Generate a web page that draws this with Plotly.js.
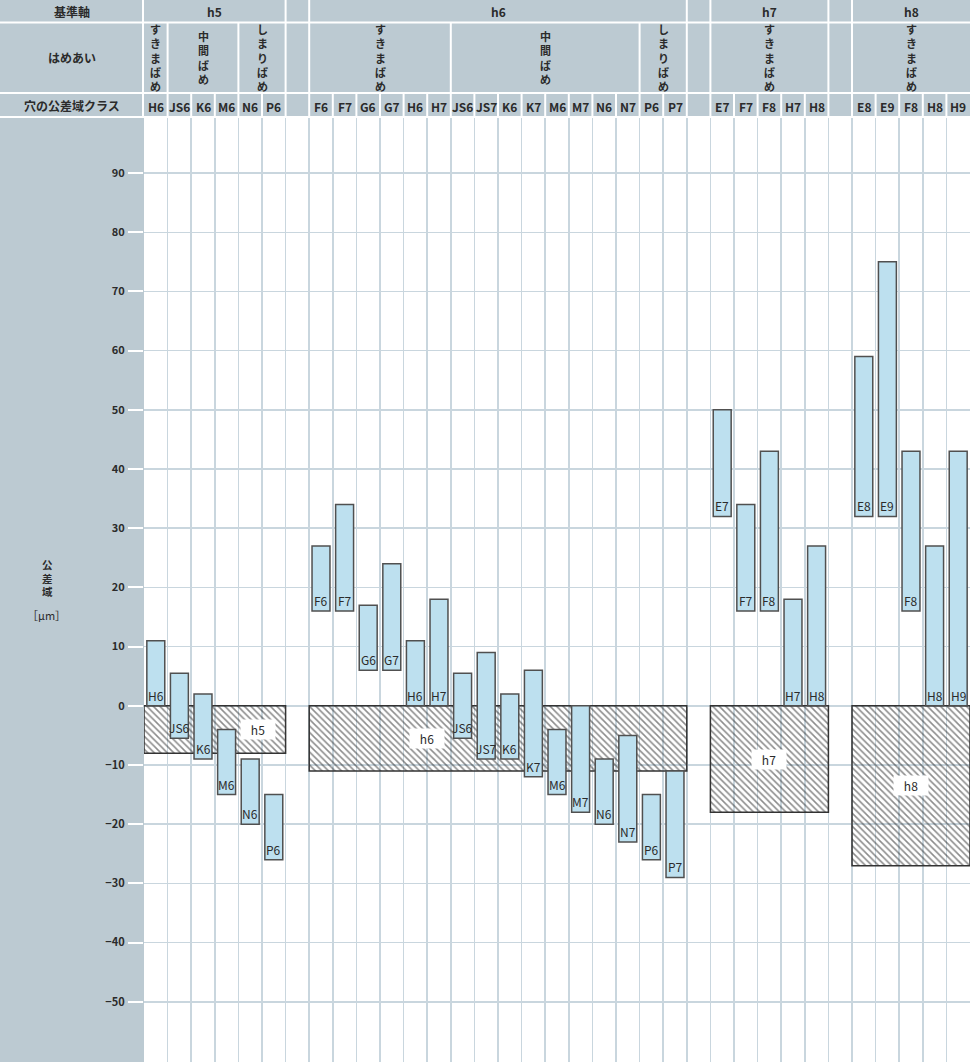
<!DOCTYPE html>
<html>
<head>
<meta charset="utf-8">
<script src="https://cdn.plot.ly/plotly-3.0.1.min.js"></script>
<style>
  html, body { margin: 0; padding: 0; background: #ffffff; }
  #chart { width: 970px; height: 1062px; }
</style>
</head>
<body>
<div id="chart"></div>
<script>
// ---------------- DATA ----------------
// Hole tolerance classes per column ('' = blank separator column between shaft groups)
const holeClasses = ['H6','JS6','K6','M6','N6','P6','',
  'F6','F7','G6','G7','H6','H7','JS6','JS7','K6','K7','M6','M7','N6','N7','P6','P7','',
  'E7','F7','F8','H7','H8','',
  'E8','E9','F8','H8','H9'];
// Upper / lower deviations of the hole [µm]
const upperDev = [11, 5.5, 2, -4, -9, -15, null,
  27, 34, 17, 24, 11, 18, 5.5, 9, 2, 6, -4, 0, -9, -5, -15, -11, null,
  50, 34, 43, 18, 27, null,
  59, 75, 43, 27, 43];
const lowerDev = [0, -5.5, -9, -15, -20, -26, null,
  16, 16, 6, 6, 0, 0, -5.5, -9, -9, -12, -15, -18, -20, -23, -26, -29, null,
  32, 16, 16, 0, 0, null,
  32, 32, 16, 0, 0];
// Fit type per column
const fitTypes = ['すきまばめ','中間ばめ','中間ばめ','中間ばめ','しまりばめ','しまりばめ','',
  'すきまばめ','すきまばめ','すきまばめ','すきまばめ','すきまばめ','すきまばめ',
  '中間ばめ','中間ばめ','中間ばめ','中間ばめ','中間ばめ','中間ばめ','中間ばめ','中間ばめ',
  'しまりばめ','しまりばめ','',
  'すきまばめ','すきまばめ','すきまばめ','すきまばめ','すきまばめ','',
  'すきまばめ','すきまばめ','すきまばめ','すきまばめ','すきまばめ'];
// Shaft (basic shaft) tolerance zones: upper = 0, lower deviation [µm]
const shafts = ['h5','h6','h7','h8'];
const shaftUpper = [0, 0, 0, 0];
const shaftLower = [-8, -11, -18, -27];
// Y-axis ticks
const yTicks = [-50,-40,-30,-20,-10,0,10,20,30,40,50,60,70,80,90];
// Header texts
const hdrShaft = '基準軸';
const hdrFit = 'はめあい';
const hdrHole = '穴の公差域クラス';
const yTitle = '公差域';
const yUnit = '［µm］';

// ---------------- LAYOUT HELPERS ----------------
const W = 970, H = 1062, L = 144, T = 118;
const PW = W - L, PH = H - T;
const px2x = p => (p - L) / PW;
const px2y = p => (H - p) / PH;
const FONT = '"Noto Sans CJK JP", "Noto Sans", sans-serif';
const GREY = '#bccad2';
const GRID = '#c9d6de';
const TXT = '#2b2b2b';
const nCols = holeClasses.length;
const vertical = s => Array.from(s).join('<br>');

// groups of consecutive non-blank columns
const groups = [];
{
  let start = null;
  for (let i = 0; i <= nCols; i++) {
    const blank = (i === nCols) || holeClasses[i] === '';
    if (!blank && start === null) start = i;
    if (blank && start !== null) { groups.push([start, i - 1]); start = null; }
  }
}
// fit-type runs
const fitRuns = [];
{
  let start = null;
  for (let i = 0; i <= nCols; i++) {
    const cur = i < nCols ? fitTypes[i] : '';
    const prev = start !== null ? fitTypes[start] : null;
    if (start !== null && cur !== prev) { fitRuns.push([start, i - 1, prev]); start = null; }
    if (start === null && cur !== '') start = i;
  }
}

// ---------------- TRACES ----------------
const barX = [], barBase = [], barLen = [];
holeClasses.forEach((c, i) => {
  if (c === '') return;
  barX.push(i); barBase.push(lowerDev[i]); barLen.push(upperDev[i] - lowerDev[i]);
});

const shaftX = groups.map(g => (g[0] + g[1]) / 2);
const shaftW = groups.map(g => g[1] - g[0] + 1);

const traces = [
  {
    type: 'bar', x: shaftX, base: shaftUpper, y: shaftLower.map((v, k) => v - shaftUpper[k]),
    width: shaftW,
    marker: {
      color: 'rgba(0,0,0,0)',
      line: { color: '#333333', width: 1.5 },
      pattern: { shape: '\\', fgcolor: '#1a1a1a', size: 4.6, solidity: 0.34, fillmode: 'overlay' }
    },
    hoverinfo: 'skip', showlegend: false
  },
  {
    type: 'bar', x: barX, base: barBase, y: barLen, width: 0.76,
    marker: { color: '#bde0ef', line: { color: '#505050', width: 1.5 } },
    hoverinfo: 'skip', showlegend: false
  }
];

// ---------------- SHAPES ----------------
const shapes = [];
const white = { color: '#ffffff', width: 2 };
// horizontal header separators
[22.5, 93, 117].forEach(p => {
  shapes.push({ type: 'line', xref: 'paper', yref: 'paper', x0: px2x(0), x1: 1, y0: px2y(p), y1: px2y(p), line: white, layer: 'above' });
});
// left label-cell separator
shapes.push({ type: 'line', xref: 'paper', yref: 'paper', x0: px2x(143), x1: px2x(143), y0: px2y(0), y1: px2y(117), line: white });
// column boundaries in header
for (let i = 1; i < nCols; i++) {
  const gA = holeClasses[i - 1] === '', gB = holeClasses[i] === '';
  let top;
  if (gA || gB) top = 0;
  else if (fitTypes[i - 1] !== fitTypes[i]) top = 22.5;
  else top = 93;
  shapes.push({ type: 'line', xref: 'x', yref: 'paper', x0: i - 0.5, x1: i - 0.5, y0: px2y(top), y1: px2y(117), line: white });
}

// ---------------- ANNOTATIONS ----------------
const ann = [];
const hdrFont = { family: FONT, size: 12, color: TXT, weight: 700 };
// left header cells
ann.push({ xref: 'paper', yref: 'paper', x: px2x(72), y: px2y(11.5), text: hdrShaft, showarrow: false, font: hdrFont, xanchor: 'center', yanchor: 'middle' });
ann.push({ xref: 'paper', yref: 'paper', x: px2x(72), y: px2y(58), text: hdrFit, showarrow: false, font: hdrFont, xanchor: 'center', yanchor: 'middle' });
ann.push({ xref: 'paper', yref: 'paper', x: px2x(72), y: px2y(105.5), text: hdrHole, showarrow: false, font: hdrFont, xanchor: 'center', yanchor: 'middle' });
// shaft group names
groups.forEach((g, k) => {
  ann.push({ xref: 'x', yref: 'paper', x: (g[0] + g[1]) / 2, y: px2y(12), text: shafts[k], showarrow: false, font: hdrFont, xanchor: 'center', yanchor: 'middle' });
});
// fit type vertical labels (one character per line)
fitRuns.forEach(r => {
  ann.push({ xref: 'x', yref: 'paper', x: (r[0] + r[1]) / 2, y: px2y(58), text: vertical(r[2]), showarrow: false,
    font: { family: FONT, size: 11, color: TXT, weight: 700 }, xanchor: 'center', yanchor: 'middle', borderpad: 0 });
});
// hole class header labels
holeClasses.forEach((c, i) => {
  if (c === '') return;
  ann.push({ xref: 'x', yref: 'paper', x: i, y: px2y(106), text: c, showarrow: false, font: hdrFont, xanchor: 'center', yanchor: 'middle' });
});
// bar labels (at the lower end of each bar)
holeClasses.forEach((c, i) => {
  if (c === '') return;
  ann.push({ xref: 'x', yref: 'y', x: i, y: lowerDev[i], text: c, showarrow: false,
    font: { family: FONT, size: 12, color: TXT }, xanchor: 'center', yanchor: 'bottom', borderpad: 0, yshift: 1 });
});
// shaft zone labels (white boxes)
const shaftLabelShift = [1.85, -3, 0, 0]; // horizontal offset of label from zone centre (columns)
shafts.forEach((s, k) => {
  ann.push({ xref: 'x', yref: 'y', x: shaftX[k] + shaftLabelShift[k], y: (shaftUpper[k] + shaftLower[k]) / 2,
    text: s, showarrow: false, font: { family: FONT, size: 12, color: TXT },
    bgcolor: '#ffffff', width: 32, height: 17, xanchor: 'center', yanchor: 'middle' });
});
// y-axis title
ann.push({ xref: 'paper', yref: 'paper', x: px2x(47), y: px2y(578), text: vertical(yTitle), showarrow: false,
  font: { family: FONT, size: 10.5, color: TXT, weight: 700 }, xanchor: 'center', yanchor: 'middle', borderpad: 0 });
ann.push({ xref: 'paper', yref: 'paper', x: px2x(46.5), y: px2y(615), text: yUnit, showarrow: false,
  font: { family: FONT, size: 11, color: TXT }, xanchor: 'center', yanchor: 'middle' });

// ---------------- LAYOUT ----------------
const xBounds = [];
for (let i = 1; i < nCols; i++) xBounds.push(i - 0.5);

const layout = {
  width: W, height: H,
  margin: { l: L, r: 0, t: T, b: 0, pad: 0 },
  paper_bgcolor: GREY,
  plot_bgcolor: '#ffffff',
  barmode: 'overlay',
  showlegend: false,
  font: { family: FONT, color: TXT },
  xaxis: {
    range: [-0.5, nCols - 0.5], tickmode: 'array', tickvals: xBounds,
    showticklabels: false, ticks: '', showgrid: true, gridcolor: GRID, gridwidth: 1.5,
    zeroline: false, showline: false, fixedrange: true
  },
  yaxis: {
    range: [-60.17, 99.3], tickmode: 'array', tickvals: yTicks,
    ticks: 'outside', ticklen: 15, tickwidth: 2, tickcolor: '#ffffff',
    ticklabelstandoff: 1,
    tickfont: { family: FONT, size: 11, color: TXT, weight: 700 },
    showgrid: true, gridcolor: GRID, gridwidth: 1.5,
    zeroline: false, showline: false, fixedrange: true
  },
  shapes: shapes,
  annotations: ann
};

Plotly.newPlot('chart', traces, layout, { displayModeBar: false, staticPlot: true });
</script>
</body>
</html>
